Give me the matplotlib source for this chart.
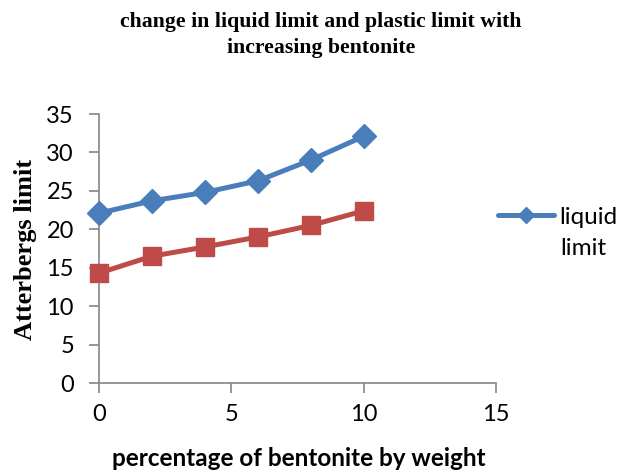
import matplotlib
matplotlib.use("Agg")
import matplotlib.pyplot as plt

bentonite = [0, 2, 4, 6, 8, 10]
liquid_limit = [22.1, 23.7, 24.8, 26.3, 29.0, 32.1]
plastic_limit = [14.3, 16.5, 17.7, 19.0, 20.5, 22.4]
x_ticks = [0, 5, 10, 15]
y_ticks = [0, 5, 10, 15, 20, 25, 30, 35]

blue = "#4A7EBB"
red = "#BE4B48"
axis_grey = "#868686"
sans = ["Lato", "DejaVu Sans"]
serif = ["Liberation Serif", "DejaVu Serif"]

fig = plt.figure(figsize=(6.32, 4.74), dpi=100)
ax = fig.add_axes([99/632, 1-383/474, (496-99)/632, (383-114)/474])

l1, = ax.plot(bentonite, liquid_limit, color=blue, lw=3.6, marker="D",
              markersize=12, markerfacecolor=blue, markeredgecolor=blue,
              label="liquid", solid_capstyle="round")
l2, = ax.plot(bentonite, plastic_limit, color=red, lw=3.6, marker="s",
              markersize=13.5, markerfacecolor=red, markeredgecolor=red,
              label="plastic limit")

ax.set_xlim(0, 15)
ax.set_ylim(0, 35)
ax.set_xticks(x_ticks)
ax.set_yticks(y_ticks)
for s in ["top", "right"]:
    ax.spines[s].set_visible(False)
for s in ["left", "bottom"]:
    ax.spines[s].set_color(axis_grey)
    ax.spines[s].set_linewidth(1.2)
    ax.spines[s].set_zorder(0)
ax.tick_params(axis="both", colors=axis_grey, width=1.2, length=7,
               labelcolor="black", labelsize=17)
ax.tick_params(axis="x", pad=8)
ax.tick_params(axis="y", pad=11)
for lab in ax.get_xticklabels() + ax.get_yticklabels():
    lab.set_fontfamily(sans)
for ln in (l1, l2):
    ln.set_clip_on(False)

fig.text(0.508, 1-22/474, "change in liquid limit and plastic limit with",
         ha="center", va="center", fontsize=15.7, fontweight="bold", family=serif)
fig.text(0.508, 1-48/474, "increasing bentonite",
         ha="center", va="center", fontsize=15.7, fontweight="bold", family=serif)
fig.text(26/632, 1-249/474, "Atterbergs limit", rotation=90, ha="center",
         va="center", fontsize=19, fontweight="bold", family=serif)
fig.text(299/632, 1-458/474, "percentage of bentonite by weight", ha="center",
         va="center", fontsize=17.5, fontweight="bold", family=sans)

leg = fig.legend(handles=[l1], loc="center left",
                 bbox_to_anchor=(498/632, 1-217/474), frameon=False,
                 prop={"family": sans, "size": 17.5}, handlelength=2.3,
                 markerscale=0.65, handletextpad=0.2, borderaxespad=0,
                 borderpad=0)
fig.text(560/632, 1-248/474, "limit", ha="left", va="center",
         fontsize=17.5, family=sans)

fig.savefig("out.png", dpi=100)
